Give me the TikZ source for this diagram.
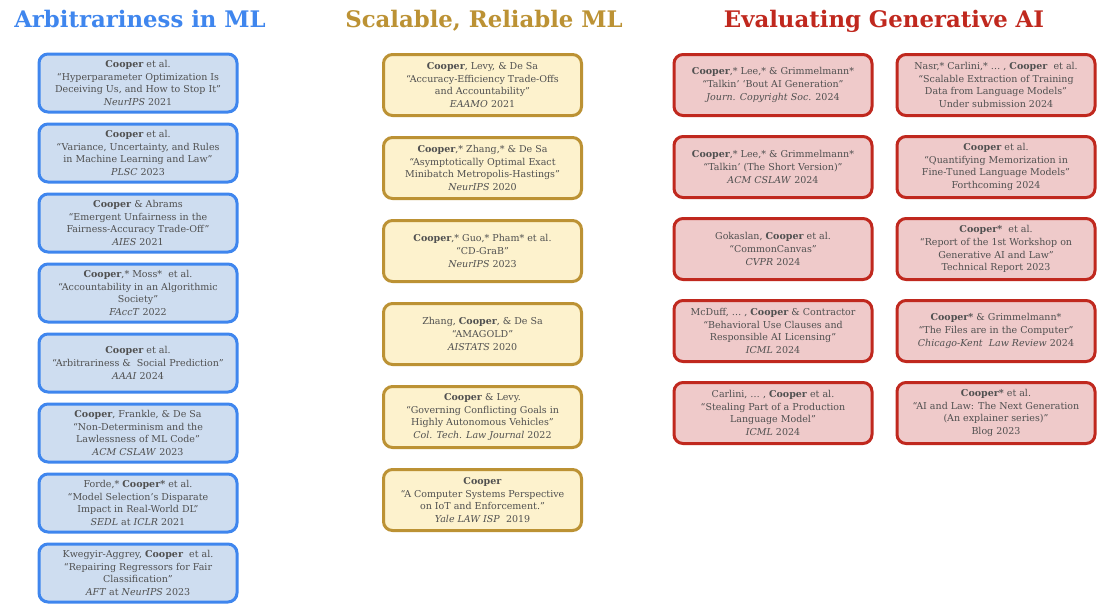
\documentclass[tikz,border=0pt]{standalone}
\usepackage{fontspec}
\setmainfont{DejaVu Serif}
\definecolor{arbline}{HTML}{3F86EE}
\definecolor{arbfill}{HTML}{CEDDF0}
\definecolor{relline}{HTML}{BC9234}
\definecolor{relfill}{HTML}{FDF2CD}
\definecolor{genline}{HTML}{C0281E}
\definecolor{genfill}{HTML}{EFCACA}
\definecolor{bodygray}{HTML}{505050}
\begin{document}
\begin{tikzpicture}[x=1pt, y=-1pt,
    paper node/.style={rectangle, rounded corners=9pt, line width=3pt, minimum width=198pt, align=center},
    arb node/.style={paper node, draw=arbline, fill=arbfill, minimum height=58pt, node distance=70pt},
    rel node/.style={paper node, draw=relline, fill=relfill, minimum height=61pt, node distance=83pt},
    gen node/.style={paper node, draw=genline, fill=genfill, minimum height=61pt, node distance=82pt},
    title node/.style={anchor=base, font=\fontsize{22.8}{26}\selectfont\bfseries}]
        \tikzstyle{every node}=[font=\fontsize{9.5}{12.8}\selectfont, text=bodygray]
        \path[fill=white, use as bounding box] (0,0) rectangle (1097,603);

          \node[title node, text=arbline] (t1) at (140,27) {Arbitrariness in ML};
          \node[title node, text=relline] (t2) at (484,27) {Scalable, Reliable ML};
          \node[title node, text=genline] (t3) at (884,27) {Evaluating Generative AI};

          \node[arb node] (a1) at (138,83) {\textbf{Cooper} et al.\\``Hyperparameter Optimization Is\\Deceiving Us, and How to Stop It''\\\textit{NeurIPS} 2021};
          \node[arb node] (a2) [below of=a1] {\textbf{Cooper} et al.\\``Variance, Uncertainty, and Rules\\in Machine Learning and Law''\\\textit{PLSC} 2023};
          \node[arb node] (a3) [below of=a2] {\textbf{Cooper} \& Abrams\\``Emergent Unfairness in the\\Fairness-Accuracy Trade-Off''\\\textit{AIES} 2021};
          \node[arb node] (a4) [below of=a3] {\textbf{Cooper},* Moss*\ \ et al.\\``Accountability in an Algorithmic\\Society''\\\textit{FAccT} 2022};
          \node[arb node] (a5) [below of=a4] {\textbf{Cooper} et al.\\``Arbitrariness \&\ \ Social Prediction''\\\textit{AAAI} 2024};
          \node[arb node] (a6) [below of=a5] {\textbf{Cooper}, Frankle, \& De Sa\\``Non-Determinism and the\\Lawlessness of ML Code''\\\textit{ACM CSLAW} 2023};
          \node[arb node] (a7) [below of=a6] {Forde,* \textbf{Cooper*} et al.\\``Model Selection's Disparate\\Impact in Real-World DL''\\\textit{SEDL} at \textit{ICLR} 2021};
          \node[arb node] (a8) [below of=a7] {Kwegyir-Aggrey, \textbf{Cooper}\ \ et al.\\``Repairing Regressors for Fair\\Classification''\\\textit{AFT} at \textit{NeurIPS} 2023};

          \node[rel node] (s1) at (482.5,85) {\textbf{Cooper}, Levy, \& De Sa\\``Accuracy-Efficiency Trade-Offs\\and Accountability''\\\textit{EAAMO} 2021};
          \node[rel node] (s2) [below of=s1] {\textbf{Cooper},* Zhang,* \& De Sa\\``Asymptotically Optimal Exact\\Minibatch Metropolis-Hastings''\\\textit{NeurIPS} 2020};
          \node[rel node] (s3) [below of=s2] {\textbf{Cooper},* Guo,* Pham* et al.\\``CD-GraB''\\\textit{NeurIPS} 2023};
          \node[rel node] (s4) [below of=s3] {Zhang, \textbf{Cooper}, \& De Sa\\``AMAGOLD''\\\textit{AISTATS} 2020};
          \node[rel node] (s5) [below of=s4] {\textbf{Cooper} \& Levy.\\``Governing Conflicting Goals in\\Highly Autonomous Vehicles''\\\textit{Col. Tech. Law Journal} 2022};
          \node[rel node] (s6) [below of=s5] {\textbf{Cooper}\\``A Computer Systems Perspective\\on IoT and Enforcement.''\\\textit{Yale LAW ISP}\ \ 2019};

          \node[gen node] (g1) at (773,85) {\textbf{Cooper},* Lee,* \& Grimmelmann*\\``Talkin' `Bout AI Generation''\\\textit{Journ. Copyright Soc.} 2024};
          \node[gen node] (g2) [below of=g1] {\textbf{Cooper},* Lee,* \& Grimmelmann*\\``Talkin' (The Short Version)''\\\textit{ACM CSLAW} 2024};
          \node[gen node] (g3) [below of=g2] {Gokaslan, \textbf{Cooper} et al.\\``CommonCanvas''\\\textit{CVPR} 2024};
          \node[gen node] (g4) [below of=g3] {McDuff, \ldots\ , \textbf{Cooper} \& Contractor\\``Behavioral Use Clauses and\\Responsible AI Licensing''\\\textit{ICML} 2024};
          \node[gen node] (g5) [below of=g4] {Carlini, \ldots\ , \textbf{Cooper} et al.\\``Stealing Part of a Production\\Language Model''\\\textit{ICML} 2024};

          \node[gen node] (g6) at (996,85) {Nasr,* Carlini,* \ldots\ , \textbf{Cooper}\ \ et al.\\``Scalable Extraction of Training\\Data from Language Models''\\Under submission 2024};
          \node[gen node] (g7) [below of=g6] {\textbf{Cooper} et al.\\``Quantifying Memorization in\\Fine-Tuned Language Models''\\Forthcoming 2024};
          \node[gen node] (g8) [below of=g7] {\textbf{Cooper*}\ \ et al.\\``Report of the 1st Workshop on\\Generative AI and Law''\\Technical Report 2023};
          \node[gen node] (g9) [below of=g8] {\textbf{Cooper*} \& Grimmelmann*\\``The Files are in the Computer''\\\textit{Chicago-Kent\ \ Law Review} 2024};
          \node[gen node] (g10) [below of=g9] {\textbf{Cooper*} et al.\\``AI and Law: The Next Generation\\(An explainer series)''\\Blog 2023};

        \end{tikzpicture}
\end{document}
